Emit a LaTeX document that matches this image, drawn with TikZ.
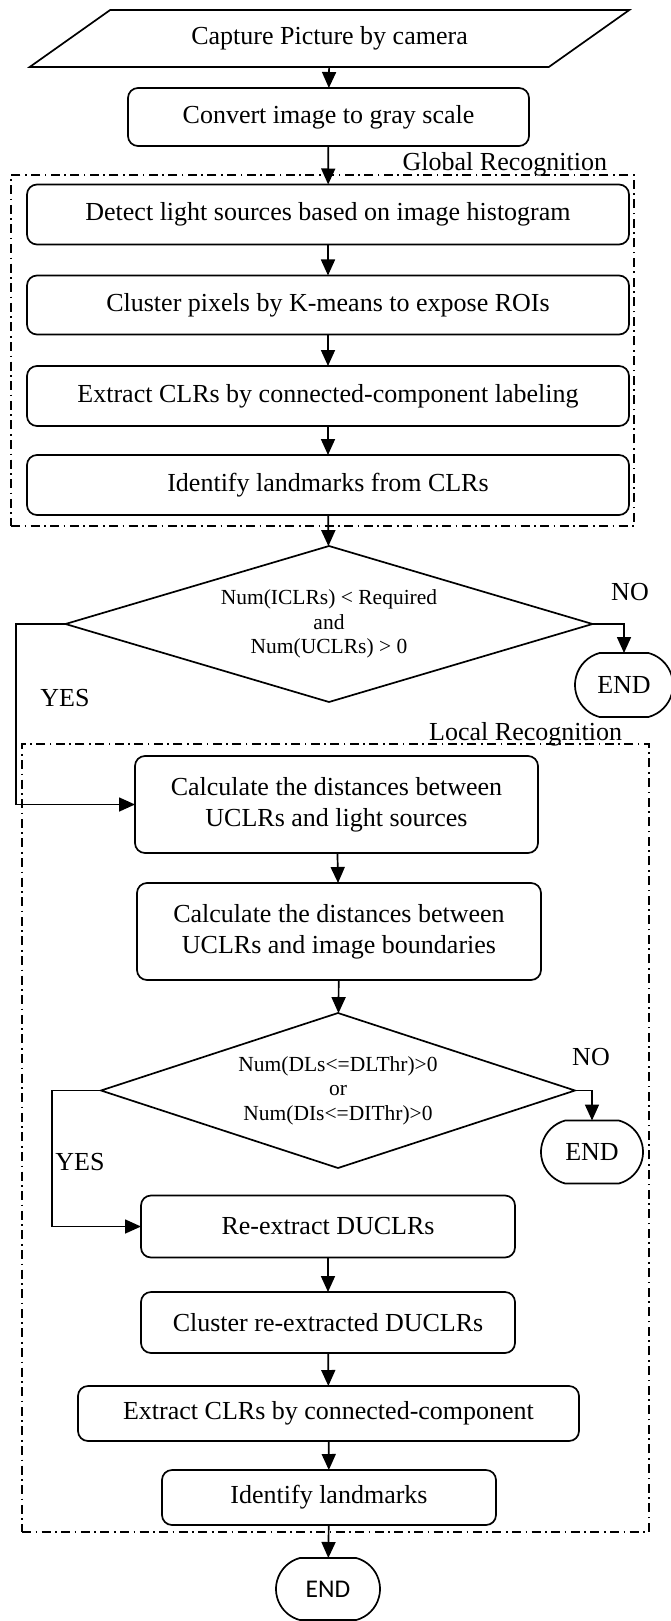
\documentclass[tikz,border=0pt]{standalone}
\usepackage{fontspec}
\setmainfont{Liberation Serif}
\newfontfamily\endfont{Carlito}
\usetikzlibrary{shapes.geometric,shapes.misc,arrows.meta}
\begin{document}
\begin{tikzpicture}[x=1pt,y=-1pt,
  every node/.style={font=\fontsize{26}{31}\selectfont, inner sep=0pt, outer sep=0pt},
  proc/.style={draw, line width=1.7pt, rounded corners=10pt, align=center},
  dec/.style={draw, diamond, line width=1.7pt, align=center, font=\fontsize{21.5}{24.5}\selectfont},
  term/.style={draw, rounded rectangle, rounded rectangle arc length=150, line width=1.7pt},
  grp/.style={draw, line width=1.4pt, dash pattern=on 9pt off 4.5pt on 1.6pt off 4.5pt},
  arr/.style={line width=1.7pt, -{Triangle[length=16pt,width=14pt]}}
]
\useasboundingbox (0,0) rectangle (670,1621);

% group frames
\node[grp, minimum width=623, minimum height=351] (gr) at (322.5,350.5) {};
\node[anchor=base east] (grlbl) at (607,171) {Global Recognition};
\node[grp, minimum width=627, minimum height=788] (lr) at (335.5,1138) {};
\node[anchor=base east] (lrlbl) at (622,740) {Local Recognition};

% nodes
\node[draw, trapezium, trapezium left angle=25, trapezium right angle=155,
      trapezium stretches=true, line width=1.7pt,
      minimum width=601, minimum height=57] (cap) at (329.5,38.5) {Capture Picture by camera};
\node[proc, minimum width=401, minimum height=58] (conv) at (328.5,117) {Convert image to gray scale};
\node[proc, minimum width=602, minimum height=60] (det) at (328,214.5) {Detect light sources based on image histogram};
\node[proc, minimum width=602, minimum height=59] (clu) at (328,305) {Cluster pixels by K-means to expose ROIs};
\node[proc, minimum width=602, minimum height=60] (ext) at (328,396) {Extract CLRs by connected-component labeling};
\node[proc, minimum width=602, minimum height=60] (idf) at (328,485) {Identify landmarks from CLRs};

\node[dec, aspect=3.4, minimum width=527, minimum height=156] (dia1) at (329,624)
  {Num(ICLRs) < Required\\and\\Num(UCLRs) > 0};
\node[term, minimum width=98, minimum height=64] (end1) at (624,685) {END};
\node (no1) at (630,592) {NO};
\node (yes1) at (65,698) {YES};

\node[proc, minimum width=403, minimum height=97] (calc1) at (336.5,804.5)
  {Calculate the distances between\\UCLRs and light sources};
\node[proc, minimum width=404, minimum height=97] (calc2) at (339,931.5)
  {Calculate the distances between\\UCLRs and image boundaries};

\node[dec, aspect=3.06, minimum width=474, minimum height=155] (dia2) at (338,1090.5)
  {Num(DLs<=DLThr)>0\\or\\Num(DIs<=DIThr)>0};
\node[term, minimum width=102, minimum height=63] (end2) at (592,1152) {END};
\node (no2) at (591,1057) {NO};
\node (yes2) at (80,1162) {YES};

\node[proc, minimum width=374, minimum height=62] (rex) at (328,1226.5) {Re-extract DUCLRs};
\node[proc, minimum width=374, minimum height=61] (clu2) at (328,1322.5) {Cluster re-extracted DUCLRs};
\node[proc, minimum width=501, minimum height=55] (ext2) at (328.5,1413.5) {Extract CLRs by connected-component};
\node[proc, minimum width=334, minimum height=55] (idf2) at (329,1497.5) {Identify landmarks};
\node[term, minimum width=104, minimum height=62, font=\endfont\fontsize{25.5}{30}\selectfont] (end3) at (328,1589) {END};

% connectors
\draw[arr] (cap) -- (conv);
\draw[arr] (conv) -- (det);
\draw[arr] (det) -- (clu);
\draw[arr] (clu) -- (ext);
\draw[arr] (ext) -- (idf);
\draw[arr] (idf) -- (dia1);
\draw[arr] (dia1.east) -| (end1.north);
\coordinate (y1) at (16,624);
\draw[arr] (dia1.west) -- (y1) |- (calc1.west);
\draw[arr] (calc1) -- (calc2);
\draw[arr] (calc2) -- (dia2);
\draw[arr] (dia2.east) -| (end2.north);
\coordinate (y2) at (52,1090.5);
\draw[arr] (dia2.west) -- (y2) |- (rex.west);
\draw[arr] (rex) -- (clu2);
\draw[arr] (clu2) -- (ext2);
\draw[arr] (ext2) -- (idf2);
\draw[arr] (idf2) -- (end3);
\end{tikzpicture}
\end{document}
